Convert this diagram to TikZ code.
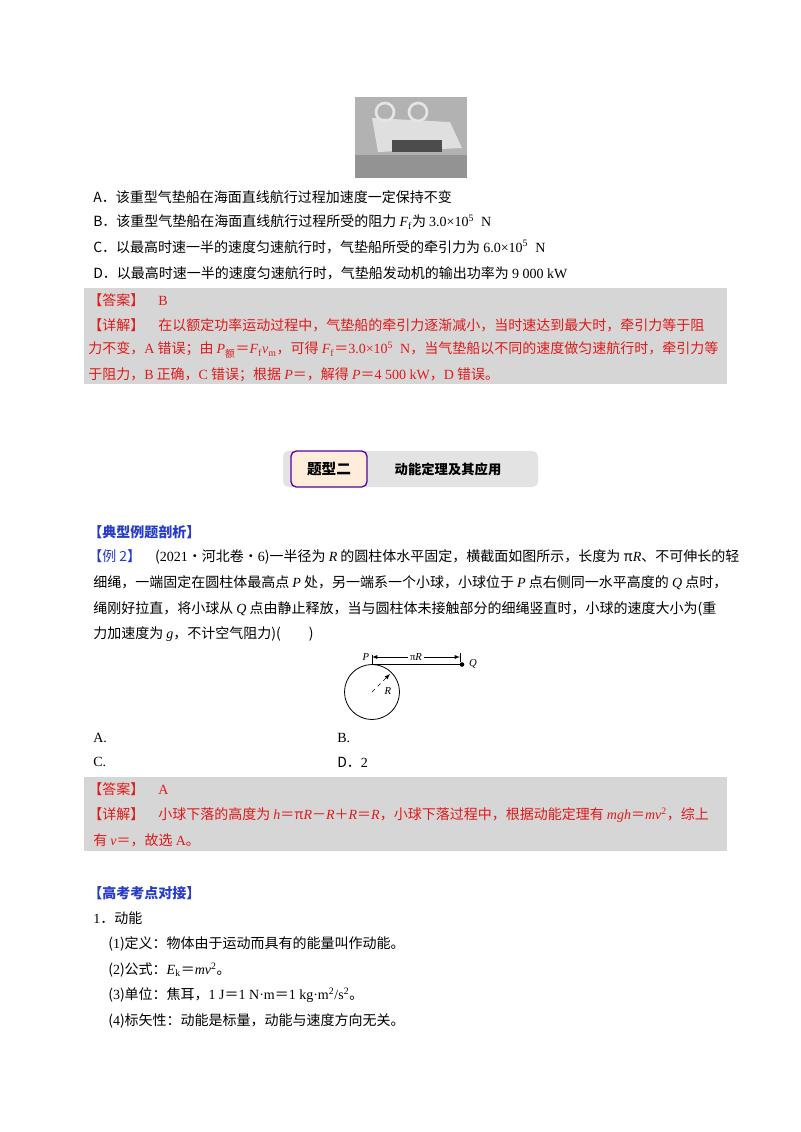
\documentclass[tikz,border=0pt]{standalone}
\usepackage{fontspec}
\setmainfont{Noto Sans CJK SC}
\newfontfamily\lat{Liberation Serif}
\newcommand{\iv}[1]{{\lat\itshape #1}}
\newcommand{\rmn}[1]{{\lat #1}}
\definecolor{ansred}{RGB}{225,25,25}
\definecolor{boxgray}{RGB}{214,214,214}
\definecolor{hdblue}{RGB}{40,60,200}
\begin{document}
\begin{tikzpicture}[x=0.75pt,y=-0.75pt,
  txt/.style={anchor=west,inner sep=0pt,font=\fontsize{10.5}{12}\selectfont},
  red/.style={txt,text=ansred},
  hd/.style={txt,text=hdblue,font=\fontsize{10.5}{12}\selectfont\bfseries}]
\useasboundingbox (0,0) rectangle (800,1132);
\fill[white] (0,0) rectangle (800,1132);
% photo
\fill[gray!60] (355,97) rectangle (467,178);
\fill[gray!85] (355,155) rectangle (467,178);
\fill[gray!25] (372,118) -- (450,122) -- (462,148) -- (378,152) -- cycle;
\draw[gray!20,line width=2pt] (385,112) circle (9);
\draw[gray!20,line width=2pt] (418,112) circle (9);
\fill[black!70] (392,140) rectangle (442,152);
\node[txt] (a) at (93,197) {A．该重型气垫船在海面直线航行过程加速度一定保持不变};
\node[txt] (b) at (93,222) {B．该重型气垫船在海面直线航行过程所受的阻力 \iv{F}\textsubscript{\rmn{f}}为 \rmn{3.0×10\textsuperscript{5}\ \ N}};
\node[txt] (c) at (93,247) {C．以最高时速一半的速度匀速航行时，气垫船所受的牵引力为 \rmn{6.0×10\textsuperscript{5}\ \ N}};
\node[txt] (d) at (93,273) {D．以最高时速一半的速度匀速航行时，气垫船发动机的输出功率为 \rmn{9 000 kW}};
\fill[boxgray] (84,288) rectangle (727,384);
\node[red] (ans1) at (88,300) {【答案】\quad \rmn{B}};
\node[red] (d1) at (88,325) {【详解】\quad 在以额定功率运动过程中，气垫船的牵引力逐渐减小，当时速达到最大时，牵引力等于阻};
\node[red] (d2) at (88,350) {力不变，\rmn{A} 错误；由 \iv{P}\textsubscript{额}＝\iv{F}\textsubscript{\rmn{f}}\iv{v}\textsubscript{\rmn{m}}，可得 \iv{F}\textsubscript{\rmn{f}}＝\rmn{3.0×10\textsuperscript{5}\ \ N}，当气垫船以不同的速度做匀速航行时，牵引力等};
\node[red] (d3) at (88,375) {于阻力，\rmn{B} 正确，\rmn{C} 错误；根据 \iv{P}＝，解得 \iv{P}＝\rmn{4 500 kW}，\rmn{D} 错误。};
% title
\fill[gray!22,rounded corners=4] (283,451) rectangle (538,487);
\node[draw=violet!70!blue,line width=1pt,fill=orange!15,rounded corners=4,inner sep=0pt,minimum height=36*0.75pt,text width=76*0.75pt,align=center,font=\fontsize{11}{12}\selectfont\bfseries] (tt) at (329,469) {题型二};
\node[font=\fontsize{10}{12}\selectfont\bfseries] (ts) at (448,469) {动能定理及其应用};
\node[hd] (h1) at (88,532) {【典型例题剖析】};
\node[txt] (e1) at (88,557) {\textcolor{hdblue}{【例 2】}\quad (\rmn{2021}·河北卷·\rmn{6})一半径为 \iv{R} 的圆柱体水平固定，横截面如图所示，长度为 π\iv{R}、不可伸长的轻};
\node[txt] (e2) at (93,583) {细绳，一端固定在圆柱体最高点 \iv{P} 处，另一端系一个小球，小球位于 \iv{P} 点右侧同一水平高度的 \iv{Q} 点时，};
\node[txt] (e3) at (93,609) {绳刚好拉直，将小球从 \iv{Q} 点由静止释放，当与圆柱体未接触部分的细绳竖直时，小球的速度大小为(重};
\node[txt] (e4) at (93,634) {力加速度为 \iv{g}，不计空气阻力)(\qquad )};
% figure
\coordinate (O) at (372,692);
\draw[line width=0.6pt] (O) circle (27.5);
\coordinate (P) at (372,664.5);
\coordinate (Q) at (462,664.5);
\draw[line width=0.6pt] (P) -- (Q);
\fill (Q) circle (2.3);
\node[inner sep=1pt,font=\fontsize{8}{9}\selectfont\lat\itshape] (pl) at (366,657) {P};
\node[inner sep=1pt,font=\fontsize{8}{9}\selectfont\lat\itshape] (ql) at (473,664) {Q};
\draw[line width=0.4pt] (372,655) -- (P);
\draw[line width=0.4pt] (460,653) -- (460,662);
\coordinate (l1) at (372,657); \coordinate (l2) at (460,657);
\draw[-latex,line width=0.4pt] (408,657) -- (l1);
\draw[-latex,line width=0.4pt] (424,657) -- (l2);
\node[inner sep=1pt,fill=white,font=\fontsize{8}{9}\selectfont\lat] (pr) at (416,657) {π\textit{R}};
\coordinate (rend) at (390,674);
\draw[dashed,-latex,line width=0.4pt] (O) -- (rend);
\node[inner sep=1pt,font=\fontsize{8}{9}\selectfont\lat\itshape] (rl) at (388,691) {R};
\node[txt] (oa) at (93,738) {\rmn{A.}};
\node[txt] (ob) at (337,738) {\rmn{B.}};
\node[txt] (oc) at (93,762) {\rmn{C.}};
\node[txt] (od) at (337,762) {D．\rmn{2}};
\fill[boxgray] (84,777) rectangle (727,851);
\node[red] (ans2) at (88,789) {【答案】\quad \rmn{A}};
\node[red] (f1) at (88,815) {【详解】\quad 小球下落的高度为 \iv{h}＝π\iv{R}－\iv{R}＋\iv{R}＝\iv{R}，小球下落过程中，根据动能定理有 \iv{mgh}＝\iv{mv}\textsuperscript{\rmn{2}}，综上};
\node[red] (f2) at (93,840) {有 \iv{v}＝，故选 \rmn{A}。};
\node[hd] (h2) at (88,893) {【高考考点对接】};
\node[txt] (k1) at (93,918) {\rmn{1}．动能};
\node[txt] (k2) at (108,944) {(\rmn{1})定义：物体由于运动而具有的能量叫作动能。};
\node[txt] (k3) at (108,970) {(\rmn{2})公式：\iv{E}\textsubscript{\rmn{k}}＝\iv{mv}\textsuperscript{\rmn{2}}。};
\node[txt] (k4) at (108,995) {(\rmn{3})单位：焦耳，\rmn{1 J}＝\rmn{1 N·m}＝\rmn{1 kg·m\textsuperscript{2}/s\textsuperscript{2}}。};
\node[txt] (k5) at (108,1021) {(\rmn{4})标矢性：动能是标量，动能与速度方向无关。};
\end{tikzpicture}
\end{document}
